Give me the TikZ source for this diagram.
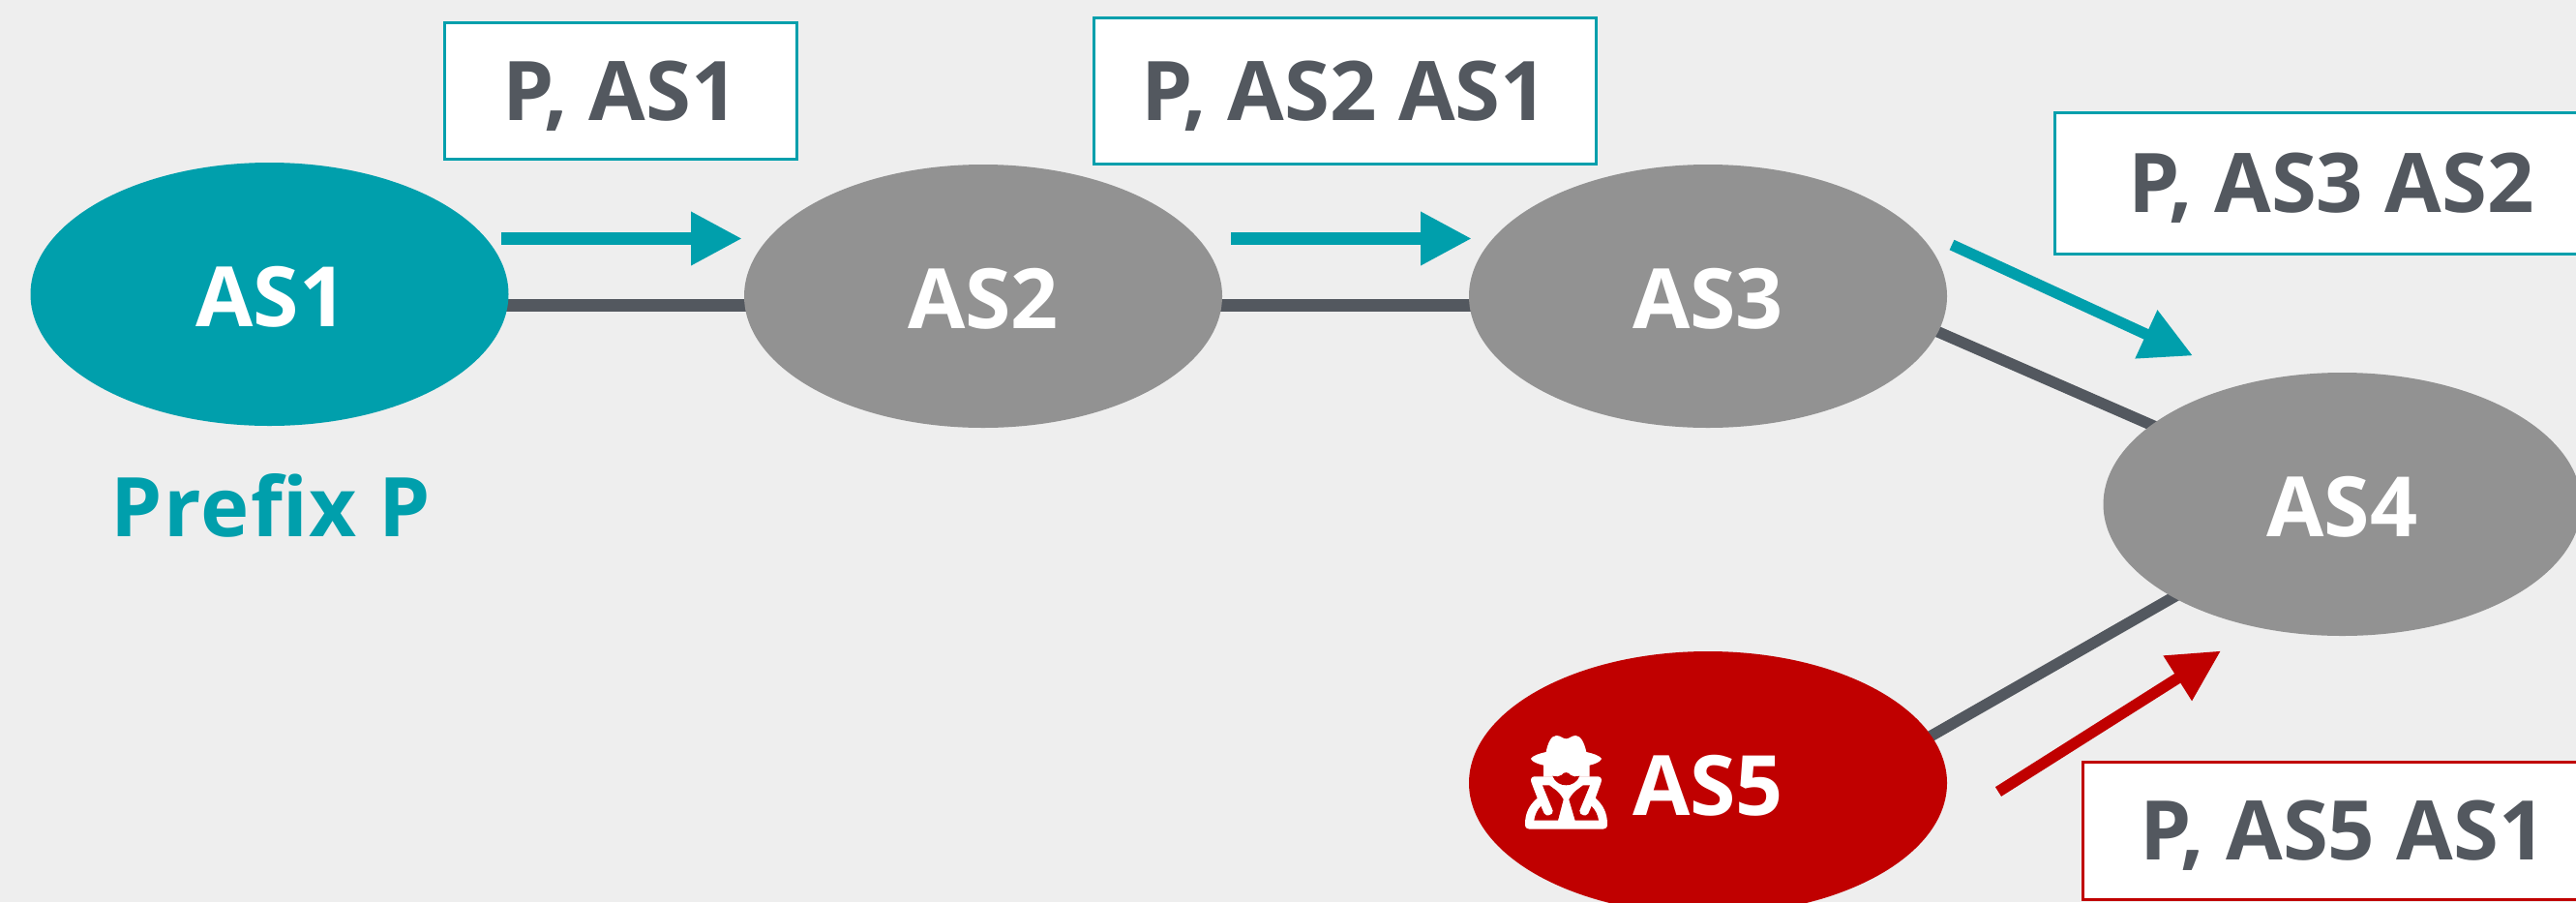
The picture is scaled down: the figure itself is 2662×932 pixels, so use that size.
\documentclass[tikz,border=0pt]{standalone}
\usepackage{fontspec}
\setmainfont{Open Sans}
\usetikzlibrary{shapes.geometric,arrows.meta}
\definecolor{teal0}{HTML}{009FAC}
\definecolor{grey0}{HTML}{929292}
\definecolor{dark0}{HTML}{53585F}
\definecolor{red0}{HTML}{C00000}
\definecolor{bg0}{HTML}{EEEEEE}
\pgfdeclarelayer{under}
\pgfsetlayers{under,main}
\tikzset{
  as/.style={ellipse,minimum width=494pt,minimum height=272pt,inner sep=0pt,outer sep=0pt,text=white,text height=67pt,text depth=0pt,font=\fontsize{86}{100}\selectfont\bfseries},
  pathbox/.style={rectangle,fill=white,line width=3pt,inner sep=0pt,outer sep=0pt,text=dark0,text height=61pt,text depth=0pt,font=\fontsize{85}{100}\selectfont\bfseries},
  link/.style={draw=dark0,line width=13pt},
  linkdiag/.style={draw=dark0,line width=11.5pt},
  adv/.style={line width=13pt,-{Triangle[length=53pt,width=52pt]}},
  advdiag/.style={line width=11.5pt,-{Triangle[length=53pt,width=52pt]}}
}
\begin{document}
\begin{tikzpicture}[x=1pt,y=-1pt]
\useasboundingbox (0,0) rectangle (2662,932);
\clip (0,0) rectangle (2662,932);
\begin{pgfonlayer}{under}
\fill[bg0] (0,0) rectangle (2662,932);
\end{pgfonlayer}
\node[as,fill=teal0] (as1) at (278.5,304) {\hspace*{4pt}AS1};
\node[as,fill=grey0] (as2) at (1016,306) {AS2};
\node[as,fill=grey0] (as3) at (1765,306) {AS3};
\node[as,fill=grey0] (as4) at (2420.5,521) {AS4};
\node[as,fill=red0] (as5) at (1765,809) {AS5};
\node[pathbox,draw=teal0,minimum width=364pt,minimum height=141pt] (b1) at (641.5,93.5) {P, AS1};
\node[pathbox,draw=teal0,minimum width=519pt,minimum height=151pt] (b2) at (1389.5,93.5) {P, AS2 AS1};
\node[pathbox,draw=teal0,minimum width=572pt,minimum height=146pt] (b3) at (2409,189) {P, AS3 AS2};
\node[pathbox,draw=red0,minimum width=538pt,minimum height=142pt] (b4) at (2421,858) {P, AS5 AS1};
\node[text=teal0,inner sep=0pt,text height=61pt,text depth=0pt,font=\fontsize{85}{100}\selectfont\bfseries] (prefix) at (280,524) {\addfontfeature{LetterSpace=1.5}Prefix P};
\begin{pgfonlayer}{under}
\draw[link] ([yshift=-11.5pt]as1.center) -- ([yshift=-9.5pt]as2.center);
\draw[link] ([yshift=-9.5pt]as2.center) -- ([yshift=-9.5pt]as3.center);
\draw[linkdiag] ([xshift=215pt,yshift=-27pt]as3.center) -- ([xshift=-170pt,yshift=70pt]as4.center);
\draw[linkdiag] ([xshift=205pt,yshift=34pt]as5.center) -- ([xshift=-150pt,yshift=-82pt]as4.center);
\end{pgfonlayer}
\coordinate (a1s) at (518,246.5);
\coordinate (a1e) at (767,246.5);
\coordinate (a2s) at (1272,246.5);
\coordinate (a2e) at (1521,246.5);
\coordinate (a3s) at (2017,253);
\coordinate (a3e) at (2266,367.5);
\coordinate (a4s) at (2065,818);
\coordinate (a4e) at (2295,672.5);
\draw[adv,draw=teal0,fill=teal0] (a1s) -- (a1e);
\draw[adv,draw=teal0,fill=teal0] (a2s) -- (a2e);
\draw[advdiag,draw=teal0,fill=teal0] (a3s) -- (a3e);
\draw[advdiag,draw=red0,fill=red0] (a4s) -- (a4e);
\begin{scope}[shift={(1500,650)},x=0.3333pt,y=-0.3333pt]
\fill[white] (246,402) .. controls (250,392) and (275,385) .. (293,381) .. controls (298,355) and (308,330) .. (325,330) .. controls (338,330) and (345,340) .. (355,340) .. controls (365,340) and (372,330) .. (385,330) .. controls (402,330) and (412,355) .. (418,381) .. controls (436,385) and (461,392) .. (465,402) .. controls (461,412) and (445,418) .. (428,422) -- (428,458) -- (285,458) -- (285,422) .. controls (268,418) and (250,412) .. (246,402) -- cycle;
\fill[white] (258,457) -- (453,457) .. controls (463,457) and (467,465) .. (464,474) -- (446,524) .. controls (470,545) and (483,570) .. (483,605) .. controls (483,615) and (478,620) .. (470,620) -- (241,620) .. controls (233,620) and (228,615) .. (228,605) .. controls (228,570) and (241,545) .. (266,524) -- (247,474) .. controls (244,465) and (248,457) .. (258,457) -- cycle;
\fill[red0] (313,455) .. controls (325,458) and (335,458) .. (342,452) .. controls (347,442) and (363,442) .. (368,452) .. controls (375,458) and (385,458) .. (397,455) .. controls (390,475) and (372,484) .. (355,484) .. controls (338,484) and (320,475) .. (313,455) -- cycle;
\fill[red0] (282,484) -- (303,484) .. controls (315,495) and (330,498) .. (347,528) -- (330,593) -- (256,593) .. controls (258,578) and (265,560) .. (277,549) -- (287,572) .. controls (292,582) and (318,578) .. (314,562) -- cycle;
\fill[red0] (429,484) -- (408,484) .. controls (396,495) and (381,498) .. (364,528) -- (383,593) -- (456,593) .. controls (454,578) and (446,560) .. (434,549) -- (424,572) .. controls (419,582) and (393,578) .. (397,562) -- cycle;
\end{scope}
\end{tikzpicture}
\end{document}
